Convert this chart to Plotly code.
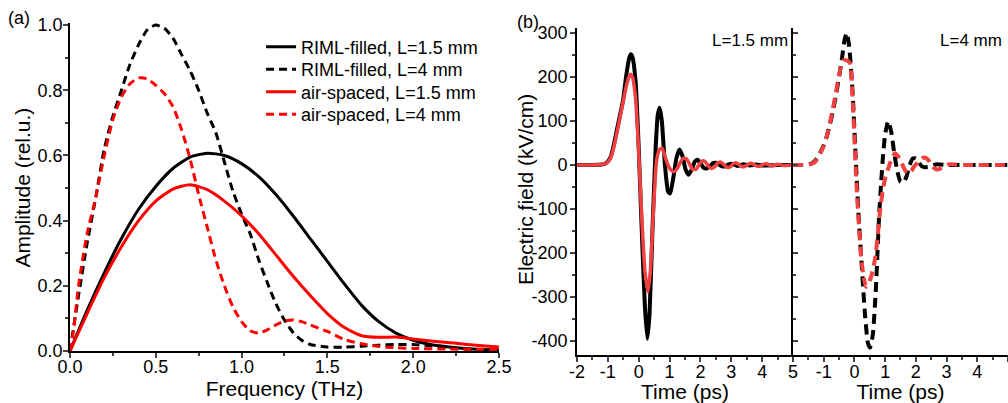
import plotly.graph_objects as go

# ---- panel (a): spectra ----
freq_riml_15 = [0, 0.1, 0.2, 0.3, 0.4, 0.5, 0.6, 0.7, 0.8, 0.9, 1.0, 1.1, 1.2, 1.3, 1.4, 1.5,
                1.6, 1.7, 1.8, 1.9, 2.0, 2.1, 2.2, 2.3, 2.4, 2.5]
amp_riml_15 = [0, 0.125, 0.24, 0.345, 0.435, 0.505, 0.56, 0.595, 0.607, 0.60, 0.575, 0.535,
               0.48, 0.415, 0.345, 0.275, 0.205, 0.14, 0.09, 0.055, 0.033, 0.02, 0.013,
               0.008, 0.005, 0.003]

freq_air_15 = [0, 0.1, 0.2, 0.3, 0.4, 0.5, 0.6, 0.7, 0.8, 0.9, 1.0, 1.1, 1.2, 1.3, 1.4, 1.5,
               1.6, 1.7, 1.8, 1.9, 2.0, 2.1, 2.2, 2.3, 2.4, 2.5]
amp_air_15 = [0, 0.115, 0.225, 0.32, 0.40, 0.46, 0.497, 0.51, 0.495, 0.46, 0.415, 0.36,
              0.295, 0.23, 0.17, 0.115, 0.072, 0.047, 0.042, 0.043, 0.037, 0.031, 0.026,
              0.021, 0.016, 0.012]

freq_riml_4 = [0, 0.05, 0.1, 0.15, 0.2, 0.25, 0.3, 0.35, 0.4, 0.45, 0.5, 0.55, 0.6, 0.65,
               0.7, 0.75, 0.8, 0.85, 0.9, 0.95, 1.0, 1.05, 1.1, 1.15, 1.2, 1.25, 1.3, 1.35,
               1.4, 1.5, 1.6, 1.7, 1.8, 1.9, 2.0, 2.1, 2.2, 2.3, 2.4, 2.5]
amp_riml_4 = [0, 0.17, 0.33, 0.47, 0.62, 0.72, 0.80, 0.88, 0.94, 0.985, 1.0, 0.99, 0.96,
              0.91, 0.86, 0.80, 0.73, 0.67, 0.58, 0.49, 0.42, 0.36, 0.28, 0.21, 0.145,
              0.095, 0.057, 0.033, 0.02, 0.012, 0.012, 0.015, 0.018, 0.02, 0.02, 0.016,
              0.01, 0.006, 0.004, 0.003]

freq_air_4 = [0, 0.02, 0.05, 0.1, 0.15, 0.2, 0.25, 0.3, 0.35, 0.4, 0.45, 0.5, 0.55, 0.6,
              0.65, 0.7, 0.75, 0.8, 0.85, 0.9, 0.95, 1.0, 1.05, 1.1, 1.15, 1.2, 1.25, 1.3,
              1.35, 1.4, 1.5, 1.6, 1.7, 1.8, 1.9, 2.0, 2.2, 2.5]
amp_air_4 = [0, 0.06, 0.2, 0.36, 0.47, 0.60, 0.71, 0.78, 0.82, 0.838, 0.835, 0.815, 0.79,
             0.75, 0.68, 0.59, 0.48, 0.38, 0.28, 0.20, 0.135, 0.09, 0.062, 0.055, 0.065,
             0.08, 0.092, 0.095, 0.09, 0.08, 0.06, 0.035, 0.022, 0.014, 0.01, 0.008,
             0.006, 0.005]

# ---- panel (b): time traces ----
t_riml_15 = [-2.0, -1.5, -1.2, -1.1, -1.0, -0.9, -0.8, -0.7, -0.6, -0.5, -0.4, -0.3, -0.25,
             -0.2, -0.1, 0.0, 0.1, 0.2, 0.28, 0.35, 0.45, 0.55, 0.62, 0.68, 0.75, 0.85,
             0.95, 1.02, 1.12, 1.22, 1.32, 1.42, 1.52, 1.62, 1.72, 1.82, 1.9, 2.0, 2.1,
             2.2, 2.3, 2.4, 2.5, 2.6, 2.7, 2.8, 2.9, 3.0, 3.2, 3.4, 3.6, 3.8, 4.0, 4.5, 5.0]
e_riml_15 = [0, 0, 1, 3, 8, 20, 48, 82, 115, 150, 205, 245, 252, 245, 190, 40, -150, -320,
             -395, -340, -140, 40, 115, 130, 100, 0, -60, -65, -30, 15, 35, 20, -10, -22,
             -10, 8, 12, 5, -6, -8, -3, 4, 5, 1, -3, -3, 1, 3, -2, 2, -1, 1, -1, 0, 0]

t_air_15 = [-2.0, -1.5, -1.2, -1.1, -1.0, -0.9, -0.8, -0.7, -0.6, -0.5, -0.4, -0.3, -0.25,
            -0.2, -0.1, 0.0, 0.1, 0.2, 0.3, 0.38, 0.48, 0.58, 0.68, 0.76, 0.85, 0.95, 1.05,
            1.15, 1.25, 1.35, 1.45, 1.55, 1.65, 1.75, 1.85, 1.95, 2.05, 2.15, 2.25, 2.35,
            2.45, 2.55, 2.65, 2.75, 2.85, 2.95, 3.05, 3.15, 3.25, 3.35, 3.45, 3.55, 3.65,
            3.75, 3.85, 3.95, 4.05, 4.15, 4.3, 4.5, 4.7, 5.0]
e_air_15 = [0, 0, 1, 3, 7, 18, 42, 75, 110, 145, 180, 203, 206, 200, 150, 30, -120, -240,
            -288, -240, -100, 10, 36, 38, 20, 0, -12, -15, -8, 6, 15, 14, 2, -10, -10, 0, 9,
            8, -2, -8, -5, 4, 7, 2, -5, -5, 2, 5, 1, -4, -3, 2, 4, 0, -3, -2, 2, 3, -2, 2,
            -1, 0]

t_riml_4 = [-2.0, -1.6, -1.4, -1.3, -1.2, -1.1, -1.0, -0.9, -0.8, -0.7, -0.6, -0.5, -0.4,
            -0.32, -0.25, -0.18, -0.1, -0.04, 0.02, 0.08, 0.14, 0.24, 0.35, 0.44, 0.51, 0.6,
            0.7, 0.8, 0.87, 0.93, 1.0, 1.1, 1.2, 1.3, 1.4, 1.5, 1.6, 1.7, 1.8, 1.9, 2.0,
            2.1, 2.2, 2.3, 2.5, 2.7, 3.0, 3.5, 4.0, 4.5, 5.0]
e_riml_4 = [0, 0, 3, 8, 18, 30, 45, 65, 92, 122, 160, 200, 245, 285, 300, 275, 210, 140, 50,
            -40, -120, -231, -345, -405, -415, -385, -280, -120, -40, 20, 70, 100, 75, 25,
            -15, -38, -40, -25, 0, 15, 15, 5, -3, -5, -2, 2, 0, 0, 0, 0, 0]

t_air_4 = [-2.0, -1.6, -1.4, -1.3, -1.2, -1.1, -1.0, -0.9, -0.8, -0.7, -0.6, -0.5, -0.42,
           -0.35, -0.25, -0.15, -0.08, 0.0, 0.07, 0.14, 0.22, 0.3, 0.38, 0.46, 0.56, 0.67,
           0.76, 0.84, 0.93, 1.0, 1.1, 1.2, 1.32, 1.42, 1.54, 1.65, 1.75, 1.85, 1.95, 2.07,
           2.2, 2.3, 2.42, 2.55, 2.68, 2.8, 2.95, 3.1, 3.3, 3.6, 4.0, 5.0]
e_air_4 = [0, 0, 3, 6, 15, 28, 44, 65, 95, 128, 165, 205, 230, 238, 238, 232, 180, 60, -50,
           -130, -210, -255, -277, -270, -250, -214, -160, -100, -55, -30, -8, 12, 27, 20,
           4, -12, -19, -14, -3, 6, 15, 17, 10, -4, -10, -8, -2, 2, 1, 0, 0, 0]

x_tick_vals_b = [-2, -1, 0, 1, 2, 3, 4, 5]
x_tick_text_left = ["-2", "-1", "0", "1", "2", "3", "4", "5"]
x_tick_text_right = ["", "-1", "0", "1", "2", "3", "4", "5"]
y_tick_vals_b = [-400, -300, -200, -100, 0, 100, 200, 300]
y_tick_text_b = ["-400", "-300", "-200", "-100", "0", "100", "200", "300"]

FONT = "Arial, Liberation Sans, sans-serif"
RED_A = "#ff0000"
RED_B = "#f04040"

fig = go.Figure()

# panel (a) -- each entry gets its own legend box so the row spacing can follow the original
fig.add_trace(go.Scatter(x=freq_riml_15, y=amp_riml_15, mode="lines", name="RIML-filled, L=1.5 mm",
                         legend="legend",
                         line=dict(color="black", width=3, shape="spline", smoothing=0.6)))
fig.add_trace(go.Scatter(x=freq_riml_4, y=amp_riml_4, mode="lines", name="RIML-filled, L=4 mm",
                         legend="legend2",
                         line=dict(color="black", width=3, dash="8px,5px", shape="spline", smoothing=0.6)))
fig.add_trace(go.Scatter(x=freq_air_15, y=amp_air_15, mode="lines", name="air-spaced, L=1.5 mm",
                         legend="legend3",
                         line=dict(color=RED_A, width=3, shape="spline", smoothing=0.6)))
fig.add_trace(go.Scatter(x=freq_air_4, y=amp_air_4, mode="lines", name="air-spaced, L=4 mm",
                         legend="legend4",
                         line=dict(color=RED_A, width=3, dash="8px,5px", shape="spline", smoothing=0.6)))

# panel (b) left
fig.add_trace(go.Scatter(x=t_riml_15, y=e_riml_15, mode="lines", showlegend=False,
                         xaxis="x2", yaxis="y2",
                         line=dict(color="black", width=4, shape="spline", smoothing=0.5)))
fig.add_trace(go.Scatter(x=t_air_15, y=e_air_15, mode="lines", showlegend=False,
                         xaxis="x2", yaxis="y2",
                         line=dict(color=RED_B, width=3.5, shape="spline", smoothing=0.5)))
# panel (b) right
fig.add_trace(go.Scatter(x=t_riml_4, y=e_riml_4, mode="lines", showlegend=False,
                         xaxis="x3", yaxis="y3",
                         line=dict(color="black", width=4, dash="10px,6px", shape="spline", smoothing=0.5)))
fig.add_trace(go.Scatter(x=t_air_4, y=e_air_4, mode="lines", showlegend=False,
                         xaxis="x3", yaxis="y3",
                         line=dict(color=RED_B, width=4, dash="10px,6px", shape="spline", smoothing=0.5)))

tick_font = dict(family=FONT, size=18, color="black")
title_font = dict(family=FONT, size=21, color="black")
line_style = dict(showline=True, linecolor="black", linewidth=1.5, showgrid=False,
                  zeroline=False, automargin=False)


def legend_box(y):
    return dict(x=0.259, y=y, xanchor="left", yanchor="middle",
                font=dict(family=FONT, size=18, color="black"),
                bgcolor="rgba(0,0,0,0)", itemwidth=30)


range_a_x = [0, 2.5]
range_a_y = [0, 1.0077]
range_b_x = [-2, 5]
range_b_y = [-431.8, 311.4]
dom_a_x = [0.0694, 0.495]
dom_a_y = [0.129, 0.944]
dom_bl_x = [0.5724, 0.7867]
dom_br_x = [0.7867, 1.0]
dom_b_y = [0.1191, 0.9305]

fig.update_layout(
    width=1008, height=403,
    margin=dict(l=0, r=0, t=0, b=0),
    paper_bgcolor="white", plot_bgcolor="white",
    font=dict(family=FONT, color="black"),
    showlegend=True,
    legend=legend_box(1 - 47 / 403),
    legend2=legend_box(1 - 69.5 / 403),
    legend3=legend_box(1 - 92 / 403),
    legend4=legend_box(1 - 114.5 / 403),
    # (a) main axes
    xaxis=dict(domain=dom_a_x, range=range_a_x, anchor="y", dtick=0.5, tickformat=".1f",
               ticks="outside", ticklen=5, tickwidth=1.5, tickfont=tick_font, ticklabelstandoff=-6,
               minor=dict(dtick=0.25, ticks="outside", ticklen=3, tickwidth=1.5),
               title=dict(text="Frequency (THz)", font=title_font, standoff=4), **line_style),
    yaxis=dict(domain=dom_a_y, range=range_a_y, anchor="x", dtick=0.2, tickformat=".1f",
               ticks="outside", ticklen=5, tickwidth=1.5, tickfont=tick_font, ticklabelstandoff=-3,
               minor=dict(dtick=0.1, ticks="outside", ticklen=3, tickwidth=1.5), **line_style),
    # (a) mirror axes, ticks inside
    xaxis4=dict(overlaying="x", side="top", anchor="y", range=range_a_x, dtick=0.5,
                ticks="inside", ticklen=5, tickwidth=1.5, showticklabels=False,
                minor=dict(dtick=0.25, ticks="inside", ticklen=3, tickwidth=1.5), **line_style),
    yaxis4=dict(overlaying="y", side="right", anchor="x", range=range_a_y, dtick=0.2,
                ticks="inside", ticklen=5, tickwidth=1.5, showticklabels=False,
                minor=dict(dtick=0.1, ticks="inside", ticklen=3, tickwidth=1.5), **line_style),
    # (b) left
    xaxis2=dict(domain=dom_bl_x, range=range_b_x, anchor="y2", tickvals=x_tick_vals_b,
                ticktext=x_tick_text_left, ticks="outside", ticklen=5, tickwidth=1.5,
                tickfont=tick_font, ticklabelstandoff=-5,
                minor=dict(dtick=0.5, ticks="outside", ticklen=3, tickwidth=1.5),
                title=dict(text="Time (ps)", font=title_font, standoff=4), **line_style),
    yaxis2=dict(domain=dom_b_y, range=range_b_y, anchor="x2", tickvals=y_tick_vals_b,
                ticktext=y_tick_text_b, ticks="outside", ticklen=5, tickwidth=1.5,
                tickfont=tick_font, ticklabelstandoff=-1,
                minor=dict(dtick=50, ticks="outside", ticklen=3, tickwidth=1.5),
                **line_style),
    xaxis5=dict(overlaying="x2", side="top", anchor="y2", range=range_b_x, tickvals=x_tick_vals_b,
                ticks="inside", ticklen=5, tickwidth=1.5, showticklabels=False,
                minor=dict(dtick=0.5, ticks="inside", ticklen=3, tickwidth=1.5), **line_style),
    yaxis5=dict(overlaying="y2", side="right", anchor="x2", range=range_b_y, tickvals=y_tick_vals_b,
                ticks="inside", ticklen=5, tickwidth=1.5, showticklabels=False,
                minor=dict(dtick=50, ticks="inside", ticklen=3, tickwidth=1.5), **line_style),
    # (b) right
    xaxis3=dict(domain=dom_br_x, range=range_b_x, anchor="y3", tickvals=x_tick_vals_b,
                ticktext=x_tick_text_right, ticks="outside", ticklen=5, tickwidth=1.5,
                tickfont=tick_font, ticklabelstandoff=-5,
                minor=dict(dtick=0.5, ticks="outside", ticklen=3, tickwidth=1.5),
                title=dict(text="Time (ps)", font=title_font, standoff=4), **line_style),
    yaxis3=dict(domain=dom_b_y, range=range_b_y, anchor="x3", tickvals=y_tick_vals_b,
                ticks="inside", ticklen=5, tickwidth=1.5, showticklabels=False,
                minor=dict(dtick=50, ticks="inside", ticklen=3, tickwidth=1.5), **line_style),
    xaxis6=dict(overlaying="x3", side="top", anchor="y3", range=range_b_x, tickvals=x_tick_vals_b,
                ticks="inside", ticklen=5, tickwidth=1.5, showticklabels=False,
                minor=dict(dtick=0.5, ticks="inside", ticklen=3, tickwidth=1.5), **line_style),
    yaxis6=dict(overlaying="y3", side="right", anchor="x3", range=range_b_y, tickvals=y_tick_vals_b,
                ticks="inside", ticklen=5, tickwidth=1.5, showticklabels=False,
                minor=dict(dtick=50, ticks="inside", ticklen=3, tickwidth=1.5), **line_style),
)

# vertical axis titles as rotated annotations (placed closer than title standoff allows)
fig.add_annotation(text="Amplitude (rel.u.)", xref="paper", yref="paper", x=0.022, y=0.535,
                   textangle=-90, xanchor="center", yanchor="middle", showarrow=False,
                   font=title_font)
fig.add_annotation(text="Electric field (kV/cm)", xref="paper", yref="paper", x=0.5215, y=0.53,
                   textangle=-90, xanchor="center", yanchor="middle", showarrow=False,
                   font=title_font)

fig.add_annotation(text="(a)", xref="paper", yref="paper", x=0.006, y=0.985,
                   xanchor="left", yanchor="top", showarrow=False,
                   font=dict(family=FONT, size=18, color="black"))
fig.add_annotation(text="(b)", xref="paper", yref="paper", x=0.511, y=0.975,
                   xanchor="left", yanchor="top", showarrow=False,
                   font=dict(family=FONT, size=18, color="black"))
fig.add_annotation(text="L=1.5 mm", xref="paper", yref="paper", x=0.784, y=0.900,
                   xanchor="right", yanchor="middle", showarrow=False,
                   font=dict(family=FONT, size=17, color="black"))
fig.add_annotation(text="L=4 mm", xref="paper", yref="paper", x=0.996, y=0.900,
                   xanchor="right", yanchor="middle", showarrow=False,
                   font=dict(family=FONT, size=17, color="black"))

# drop the default page margin so the 1008x403 figure fills the window
fig.write_html("out.html", config={"displayModeBar": False},
               post_script="document.body.style.margin='0';")
